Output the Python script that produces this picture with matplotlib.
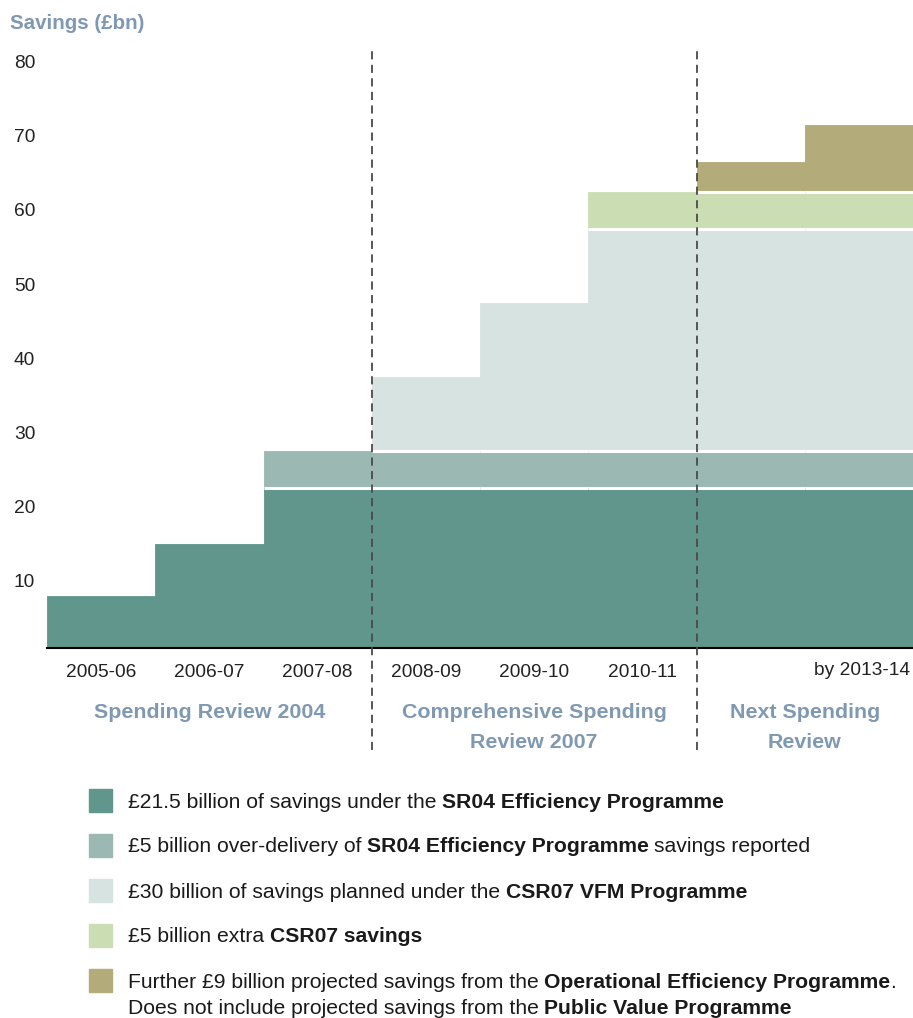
import numpy as np
import matplotlib
matplotlib.use("Agg")
import matplotlib.pyplot as plt
from matplotlib.transforms import ScaledTranslation

plt.rcParams['font.family'] = ['Liberation Sans', 'DejaVu Sans']

# each slot is one year; the final period is split into two half-steps
years = ["2005-06", "2006-07", "2007-08", "2008-09", "2009-10", "2010-11"]
last_label = "by 2013-14"
sr04 = [7, 14, 21.5, 21.5, 21.5, 21.5, 21.5, 21.5]
sr04_over = [0, 0, 5, 5, 5, 5, 5, 5]
csr07 = [0, 0, 0, 10, 20, 30, 30, 30]
csr07_extra = [0, 0, 0, 0, 0, 5, 5, 5]
oep = [0, 0, 0, 0, 0, 0, 4, 9]
y_ticks = [10, 20, 30, 40, 50, 60, 70, 80]

reviews = ["Spending Review 2004", "Comprehensive Spending\nReview 2007", "Next Spending\nReview"]
review_bounds = [(0, 3), (3, 6), (6, 8)]

series = [sr04, sr04_over, csr07, csr07_extra, oep]
colors = ["#60968b", "#9bb9b2", "#d7e3e1", "#cbddb3", "#b3ab7a"]
label_blue = "#7f99b2"
ink = "#1a1a1a"

W, H = 913, 1018
fig = plt.figure(figsize=(W / 100, H / 100), dpi=100)
ax = fig.add_axes([47 / W, (H - 648) / H, 866 / W, 598 / H])

x = np.arange(len(sr04))
bottom = np.zeros(len(sr04))
for i, (vals, c) in enumerate(zip(series, colors)):
    vals = np.array(vals, dtype=float)
    nz = vals > 0
    ax.bar(x[nz], vals[nz], width=1, align='edge', bottom=bottom[nz], color=c,
           edgecolor=c, linewidth=0.6, zorder=2)
    # white separator along the base of each upper band
    if i > 0:
        for k in np.nonzero(nz)[0]:
            ax.hlines(bottom[k], k, k + 1, color='white', lw=2.2, zorder=3)
    bottom += vals

ax.set_xlim(0, 8)
ax.set_ylim(0, 80.6)

for s in ['top', 'right', 'left']:
    ax.spines[s].set_visible(False)
ax.spines['bottom'].set_color('black')
ax.spines['bottom'].set_linewidth(1.5)
ax.spines['bottom'].set_zorder(5)

ax.set_yticks(y_ticks)
ax.tick_params(axis='y', length=0, pad=8.5, labelsize=13.8, labelcolor='#222222')
offset = ScaledTranslation(0, -7 / 100, fig.dpi_scale_trans)
for lab in ax.get_yticklabels():
    lab.set_transform(lab.get_transform() + offset)

ax.set_xticks(np.arange(len(years)) + 0.5)
ax.set_xticklabels(years)
ax.tick_params(axis='x', length=0, pad=11.5, labelsize=13.8, labelcolor='#222222')
ax.text(7.97, -0.038, last_label, transform=ax.get_xaxis_transform(),
        ha='right', va='center', fontsize=13.8, color='#222222')

# dashed dividers between review periods
for xv in [3, 6]:
    ax.vlines(xv, -0.17, 1.0, transform=ax.get_xaxis_transform(), clip_on=False,
              color='#4a4a4a', lw=1.3, linestyles=(0, (4.5, 3)), zorder=6)

for name, (a, b) in zip(reviews, review_bounds):
    ax.text((a + b) / 2, -0.092, name, transform=ax.get_xaxis_transform(),
            ha='center', va='top', fontsize=15.4, fontweight='bold',
            color=label_blue, linespacing=1.7)

fig.text(10 / W, 1 - 23 / H, "Savings (£bn)", ha='left', va='center',
         fontsize=14.8, fontweight='bold', color=label_blue)

# legend rows with mixed regular / bold runs
legend_rows = [
    [("£21.5 billion of savings under the", 'normal'), ("SR04 Efficiency Programme", 'bold')],
    [("£5 billion over-delivery of", 'normal'), ("SR04 Efficiency Programme", 'bold'),
     ("savings reported", 'normal')],
    [("£30 billion of savings planned under the", 'normal'), ("CSR07 VFM Programme", 'bold')],
    [("£5 billion extra", 'normal'), ("CSR07 savings", 'bold')],
    [("Further £9 billion projected savings from the", 'normal'),
     ("Operational Efficiency Programme", 'bold'), (".", 'nospace')],
]
second_line = [("Does not include projected savings from the", 'normal'),
               ("Public Value Programme", 'bold')]
row_y = [800, 845, 890, 935, 980]
legend_size = 15.2


def chain(runs, x0, yc):
    prev = None
    for txt, style in runs:
        weight = 'bold' if style == 'bold' else 'normal'
        kw = dict(fontsize=legend_size, fontweight=weight, color=ink, va='center', ha='left')
        if prev is None:
            prev = fig.text(x0 / W, 1 - yc / H, txt, **kw)
        else:
            gap = 0 if style == 'nospace' else 4
            prev = ax.annotate(txt, xy=(1, 0.5), xycoords=prev, xytext=(gap, 0),
                               textcoords='offset points', annotation_clip=False, **kw)


for runs, yc, c in zip(legend_rows, row_y, colors):
    fig.patches.append(plt.Rectangle((89 / W, 1 - (yc + 11.5) / H), 23 / W, 23 / H,
                                     transform=fig.transFigure, color=c, figure=fig))
    chain(runs, 128, yc + 2)
chain(second_line, 128, 1009)

fig.savefig("out.png", dpi=100)
